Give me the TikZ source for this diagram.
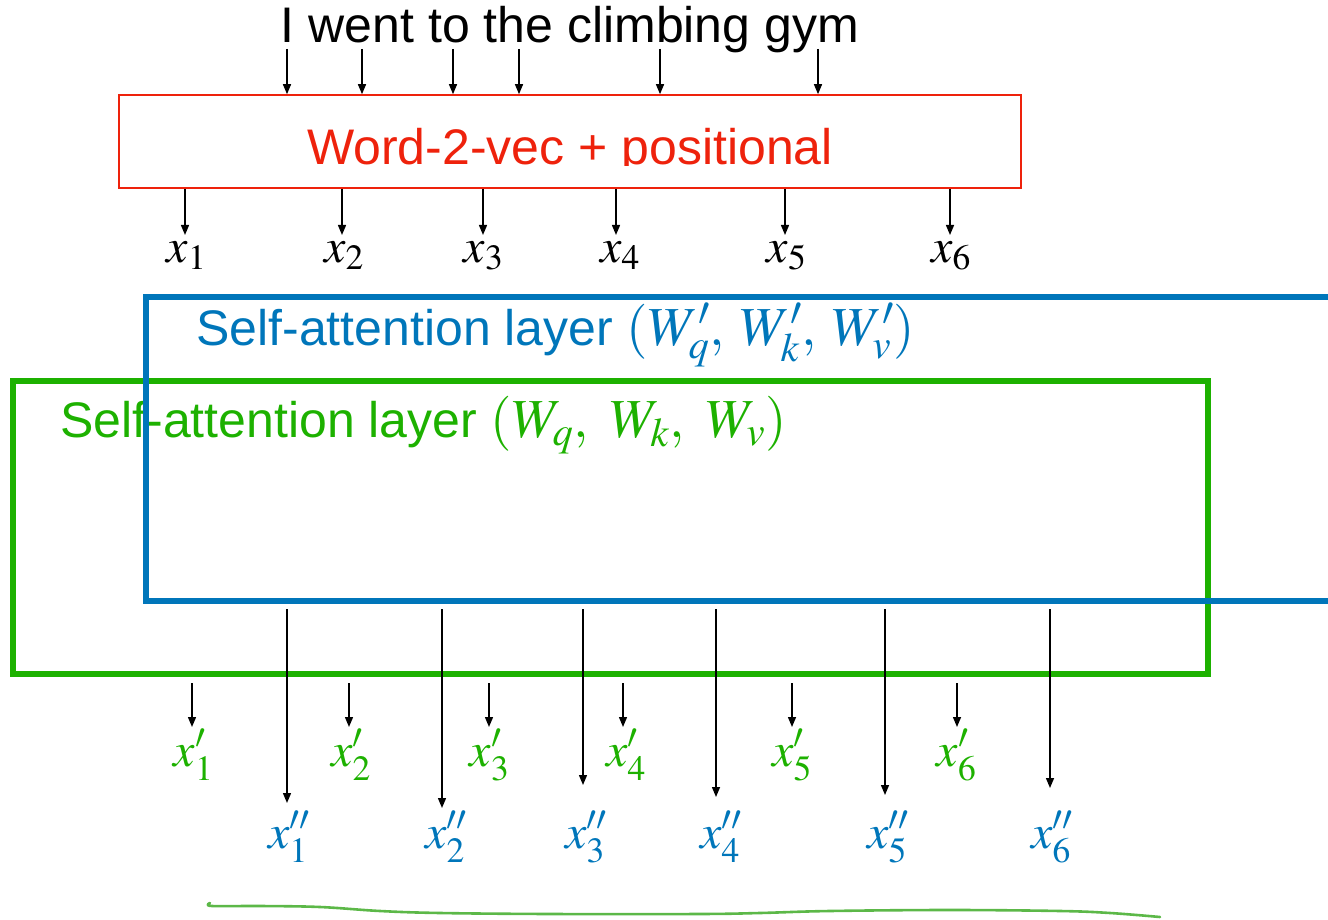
\documentclass[tikz,border=0pt]{standalone}
\usepackage{mathptmx}
\usepackage[no-math]{fontspec}
\setmainfont{Liberation Sans}
\usetikzlibrary{arrows.meta}
\definecolor{kred}{RGB}{238,34,12}
\definecolor{kblue}{RGB}{0,118,186}
\definecolor{kgreen}{RGB}{29,177,0}
\definecolor{hgreen}{RGB}{92,184,72}
\newcommand{\bigmath}[1]{{\fontsize{55}{60}\selectfont$#1$}}
\begin{document}
\begin{tikzpicture}[x=1pt,y=-1pt,
  arr/.style={line width=1.4pt,-{Triangle[length=10pt,width=8pt]}},
  txt/.style={font=\fontsize{50}{60}\selectfont, inner sep=0pt},
  lab/.style={font=\fontsize{48}{58}\selectfont, inner sep=0pt, anchor=base},
  layerbox/.style={draw, line width=6pt, inner sep=0pt}
]
\useasboundingbox (0,0) rectangle (1328,920);
\clip (0,0) rectangle (1328,920);

% sentence and embedding box
\node[txt, anchor=base] (sent) at (570,43) {I went to the climbing gym};
\node[draw=kred, line width=1.6pt, minimum width=902pt, minimum height=93pt, inner sep=0pt] (emb) at (570,141.5) {};
\begin{scope}
  \clip (119,95) rectangle (1021,166);
  \node[txt, text=kred, anchor=base] (embtxt) at (570,165) {Word-2-vec + positional};
\end{scope}

\foreach \i/\x in {1/287,2/362,3/453,4/519,5/660,6/818}{
  \coordinate (t\i) at (\x,49);
  \draw[arr] (t\i) -- (t\i |- emb.north);
}

% x_i
\foreach \i/\lx/\ax in {1/186.5/185,2/344/342,3/483.5/483,4/620/616,5/786.5/785,6/951/950}{
  \node[lab] (x\i) at (\lx,262) {$x_{\i}$};
  \coordinate (a\i) at (\ax,235);
  \draw[arr] (a\i |- emb.south) -- (a\i);
}

% layers
\node[layerbox, draw=kgreen, minimum width=1195pt, minimum height=293pt] (sa1) at (610.5,527.5) {};
\node[txt, text=kgreen, anchor=base west] (sa1txt) at (60,437) {Self-attention layer \bigmath{(W_q,\ W_k,\ W_v)}};
\node[layerbox, draw=kblue, minimum width=1199pt, minimum height=304pt] (sa2) at (745.5,449) {};
\node[txt, text=kblue, anchor=base west] (sa2txt) at (196,345) {Self-attention layer \bigmath{(W'_q,\mskip 3mu W'_k,\mskip 3mu W'_v)}};

% x'_i
\foreach \i/\lx/\ax in {1/193.5/192,2/351/349,3/489.5/489,4/626/623,5/792/792,6/956.5/957}{
  \node[lab, text=kgreen] (xp\i) at (\lx,766) {$x'_{\i}$};
  \coordinate (gs\i) at (\ax,683);
  \coordinate (ge\i) at (\ax,727);
  \draw[arr] (gs\i) -- (ge\i);
}

% x''_i
\foreach \i/\lx/\ax/\e in {1/289/287/803,2/446/442/808,3/586/583/785,4/721/716/797,5/888/885/795,6/1052/1050/788}{
  \node[lab, text=kblue] (xpp\i) at (\lx,848) {$x''_{\i}$};
  \coordinate (bs\i) at (\ax,609);
  \coordinate (be\i) at (\ax,\e);
  \draw[arr] (bs\i) -- (be\i);
}

% hand-drawn underline
\draw[hgreen, line width=2.6pt, line cap=round, line join=round]
  plot[smooth, tension=0.6] coordinates {(210,903) (212,906) (260,906) (320,907) (380,911) (440,913) (550,914) (700,914) (760,913) (830,911) (950,910) (1060,911) (1110,913) (1160,917)};
\end{tikzpicture}
\end{document}
